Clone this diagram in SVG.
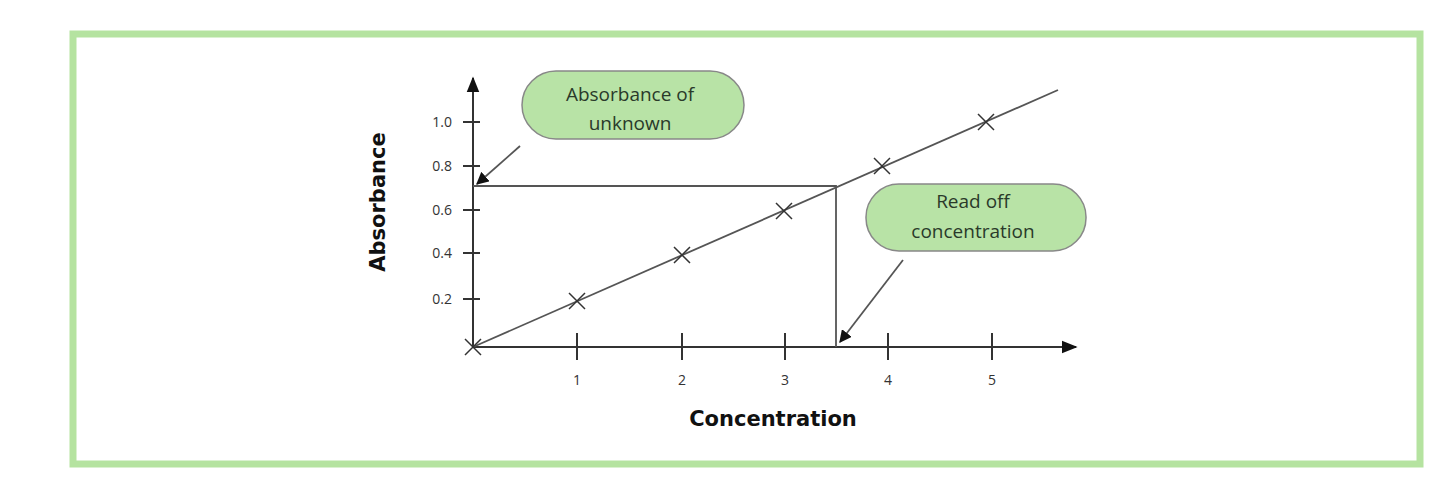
<svg xmlns="http://www.w3.org/2000/svg" width="1440" height="492" viewBox="0 0 1440 492">
<style>
.ax{stroke:#333;stroke-width:2;fill:none}
.ln{stroke:#555;stroke-width:1.8;fill:none}
.tk{font-family:"Open Sans",sans-serif;font-size:14px;fill:#333}
.bub{fill:#b8e3a6;stroke:#888;stroke-width:1.5}
.bt{font-family:"Open Sans",sans-serif;font-size:19px;fill:#2a3a2a;text-anchor:middle}
.lab{font-family:"DejaVu Sans",sans-serif;font-weight:bold;font-size:21px;fill:#111;text-anchor:middle}
.x{stroke:#333;stroke-width:1.5}
</style>
<defs>
<marker id="ah" viewBox="0 0 10 10" refX="9" refY="5" markerWidth="7" markerHeight="7" orient="auto"><path d="M0,0L10,5L0,10z" fill="#111"/></marker>
<marker id="ah2" viewBox="0 0 10 10" refX="9" refY="5" markerWidth="8" markerHeight="8" orient="auto"><path d="M0,1L10,5L0,9z" fill="#111"/></marker>
</defs>
<rect width="1440" height="492" fill="#fff"/>
<rect x="73" y="34" width="1347" height="430" fill="none" stroke="#b5e3a0" stroke-width="7"/>
<g id="axes">
<path class="ax" d="M473,347V78" marker-end="url(#ah2)"/>
<path class="ax" d="M473,347H1076" marker-end="url(#ah2)"/>
<path class="ax" d="M577,333V360M682,333V360M785,333V360M888,333V360M992,333V360"/>
<path class="ax" d="M463,299H480M463,253H480M463,210H480M463,166H480M463,122H480"/>
<g class="tk" text-anchor="middle">
<text x="577" y="385">1</text><text x="682" y="385">2</text><text x="785" y="385">3</text><text x="888" y="385">4</text><text x="992" y="385">5</text>
</g>
<g class="tk" text-anchor="end">
<text x="452" y="304">0.2</text><text x="452" y="258">0.4</text><text x="452" y="215">0.6</text><text x="452" y="171">0.8</text><text x="452" y="127">1.0</text>
</g>
<text class="lab" x="773" y="426">Concentration</text>
<text class="lab" transform="translate(385,202) rotate(-90)">Absorbance</text>
</g>
<g id="data">
<path class="ln" d="M473,347L1058,90"/>
<path class="ln" d="M473,186H836V347"/>
<path class="x" d="M465,339l16,16M481,339l-16,16M569,293l16,16M585,293l-16,16M674,247l16,16M690,247l-16,16M776,203l16,16M792,203l-16,16M874,158l16,16M890,158l-16,16M978,114l16,16M994,114l-16,16"/>
</g>
<g id="connectors">
<path class="ln" stroke="#222" d="M520,146L477,184" marker-end="url(#ah)"/>
<path class="ln" stroke="#222" d="M903,260L840,342" marker-end="url(#ah)"/>
</g>
<g id="bubble1">
<rect class="bub" x="522" y="71" width="222" height="68" rx="34"/>
<text class="bt" x="630" y="101">Absorbance of</text>
<text class="bt" x="630" y="130">unknown</text>
</g>
<g id="bubble2">
<rect class="bub" x="866" y="184" width="220" height="67" rx="33"/>
<text class="bt" x="973" y="208">Read off</text>
<text class="bt" x="973" y="238">concentration</text>
</g>
</svg>
